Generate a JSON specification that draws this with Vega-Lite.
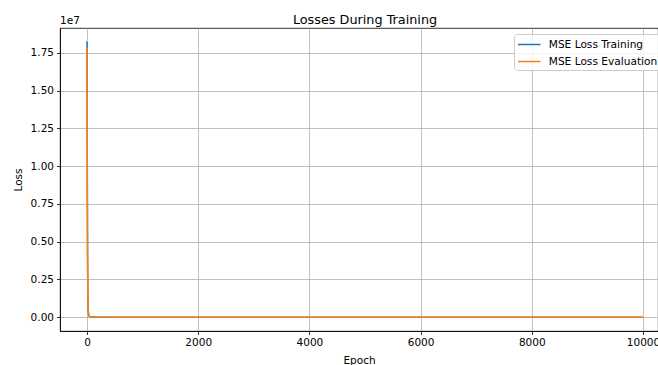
{
  "$schema": "https://vega.github.io/schema/vega-lite/v6.json",
  "width": 598,
  "height": 303,
  "autosize": "none",
  "padding": {"left": 60, "top": 28, "right": 0, "bottom": 34},
  "background": "white",
  "config": {
    "font": "DejaVu Sans",
    "view": {"stroke": "black", "strokeWidth": 0.8},
    "axis": {
      "domainColor": "black", "domainWidth": 0.8,
      "tickColor": "black", "tickWidth": 0.8, "tickSize": 3.5,
      "labelFont": "DejaVu Sans", "labelFontSize": 10.5, "labelColor": "black", "labelPadding": 3,
      "titleFont": "DejaVu Sans", "titleFontSize": 10.5, "titleFontWeight": "normal", "titleColor": "black",
      "gridColor": "#b0b0b0", "gridWidth": 0.8, "gridOpacity": 1
    }
  },
  "title": {"text": "Losses During Training", "font": "DejaVu Sans", "fontSize": 12.8, "fontWeight": "normal", "color": "black", "dx": 6, "dy": 16, "offset": 5},
  "datasets": {
    "losses": [
      {"epoch": 0, "loss": 18250000, "series": "MSE Loss Training"},
      {"epoch": 2, "loss": 15200000, "series": "MSE Loss Training"},
      {"epoch": 4, "loss": 11500000, "series": "MSE Loss Training"},
      {"epoch": 6, "loss": 8300000, "series": "MSE Loss Training"},
      {"epoch": 8, "loss": 5800000, "series": "MSE Loss Training"},
      {"epoch": 10, "loss": 4000000, "series": "MSE Loss Training"},
      {"epoch": 14, "loss": 1900000, "series": "MSE Loss Training"},
      {"epoch": 18, "loss": 900000, "series": "MSE Loss Training"},
      {"epoch": 24, "loss": 350000, "series": "MSE Loss Training"},
      {"epoch": 32, "loss": 120000, "series": "MSE Loss Training"},
      {"epoch": 45, "loss": 50000, "series": "MSE Loss Training"},
      {"epoch": 70, "loss": 25000, "series": "MSE Loss Training"},
      {"epoch": 150, "loss": 12000, "series": "MSE Loss Training"},
      {"epoch": 500, "loss": 6000, "series": "MSE Loss Training"},
      {"epoch": 1000, "loss": 4000, "series": "MSE Loss Training"},
      {"epoch": 3000, "loss": 3000, "series": "MSE Loss Training"},
      {"epoch": 6000, "loss": 2500, "series": "MSE Loss Training"},
      {"epoch": 10000, "loss": 2000, "series": "MSE Loss Training"},
      {"epoch": 0, "loss": 17850000, "series": "MSE Loss Evaluation"},
      {"epoch": 2, "loss": 14900000, "series": "MSE Loss Evaluation"},
      {"epoch": 4, "loss": 11300000, "series": "MSE Loss Evaluation"},
      {"epoch": 6, "loss": 8100000, "series": "MSE Loss Evaluation"},
      {"epoch": 8, "loss": 5700000, "series": "MSE Loss Evaluation"},
      {"epoch": 10, "loss": 3900000, "series": "MSE Loss Evaluation"},
      {"epoch": 14, "loss": 1850000, "series": "MSE Loss Evaluation"},
      {"epoch": 18, "loss": 880000, "series": "MSE Loss Evaluation"},
      {"epoch": 24, "loss": 340000, "series": "MSE Loss Evaluation"},
      {"epoch": 32, "loss": 115000, "series": "MSE Loss Evaluation"},
      {"epoch": 45, "loss": 48000, "series": "MSE Loss Evaluation"},
      {"epoch": 70, "loss": 24000, "series": "MSE Loss Evaluation"},
      {"epoch": 150, "loss": 12000, "series": "MSE Loss Evaluation"},
      {"epoch": 500, "loss": 6500, "series": "MSE Loss Evaluation"},
      {"epoch": 1000, "loss": 4500, "series": "MSE Loss Evaluation"},
      {"epoch": 3000, "loss": 3500, "series": "MSE Loss Evaluation"},
      {"epoch": 6000, "loss": 3000, "series": "MSE Loss Evaluation"},
      {"epoch": 10000, "loss": 2500, "series": "MSE Loss Evaluation"}
    ],
    "offset": [{"label": "1e7"}]
  },
  "layer": [
    {
      "data": {"name": "losses"},
      "mark": {"type": "line", "strokeWidth": 1.5, "clip": true},
      "encoding": {
        "x": {
          "field": "epoch", "type": "quantitative",
          "scale": {"domain": [-486, 10270], "nice": false, "zero": false},
          "axis": {"title": "Epoch", "values": [0, 2000, 4000, 6000, 8000, 10000], "grid": true, "format": "d", "titlePadding": 7}
        },
        "y": {
          "field": "loss", "type": "quantitative",
          "scale": {"domain": [-910000, 19140000], "nice": false, "zero": false},
          "axis": {
            "title": "Loss", "grid": true,
            "values": [0, 2500000, 5000000, 7500000, 10000000, 12500000, 15000000, 17500000],
            "labelExpr": "format(datum.value / 10000000, '.2f')",
            "titlePadding": 7
          }
        },
        "color": {
          "field": "series", "type": "nominal",
          "sort": ["MSE Loss Training", "MSE Loss Evaluation"],
          "scale": {"domain": ["MSE Loss Training", "MSE Loss Evaluation"], "range": ["#1f77b4", "#ff7f0e"]},
          "legend": {
            "title": null, "orient": "none", "legendX": 454, "legendY": 6,
            "symbolType": "M-1.5,0H1.5", "symbolSize": 225, "symbolStrokeWidth": 1.5, "symbolOffset": 4.75,
            "labelFont": "DejaVu Sans", "labelFontSize": 10.6, "labelColor": "black",
            "strokeColor": "#cccccc", "fillColor": "rgba(255,255,255,0.8)", "cornerRadius": 3,
            "padding": 2, "rowPadding": 2, "labelOffset": 11
          }
        },
        "order": {"field": "epoch"}
      }
    },
    {
      "data": {"name": "offset"},
      "mark": {"type": "text", "align": "left", "baseline": "bottom", "fontSize": 10.5, "font": "DejaVu Sans", "color": "black", "dy": -2, "clip": false},
      "encoding": {
        "x": {"datum": -486},
        "y": {"datum": 19140000},
        "text": {"field": "label"}
      }
    }
  ]
}
